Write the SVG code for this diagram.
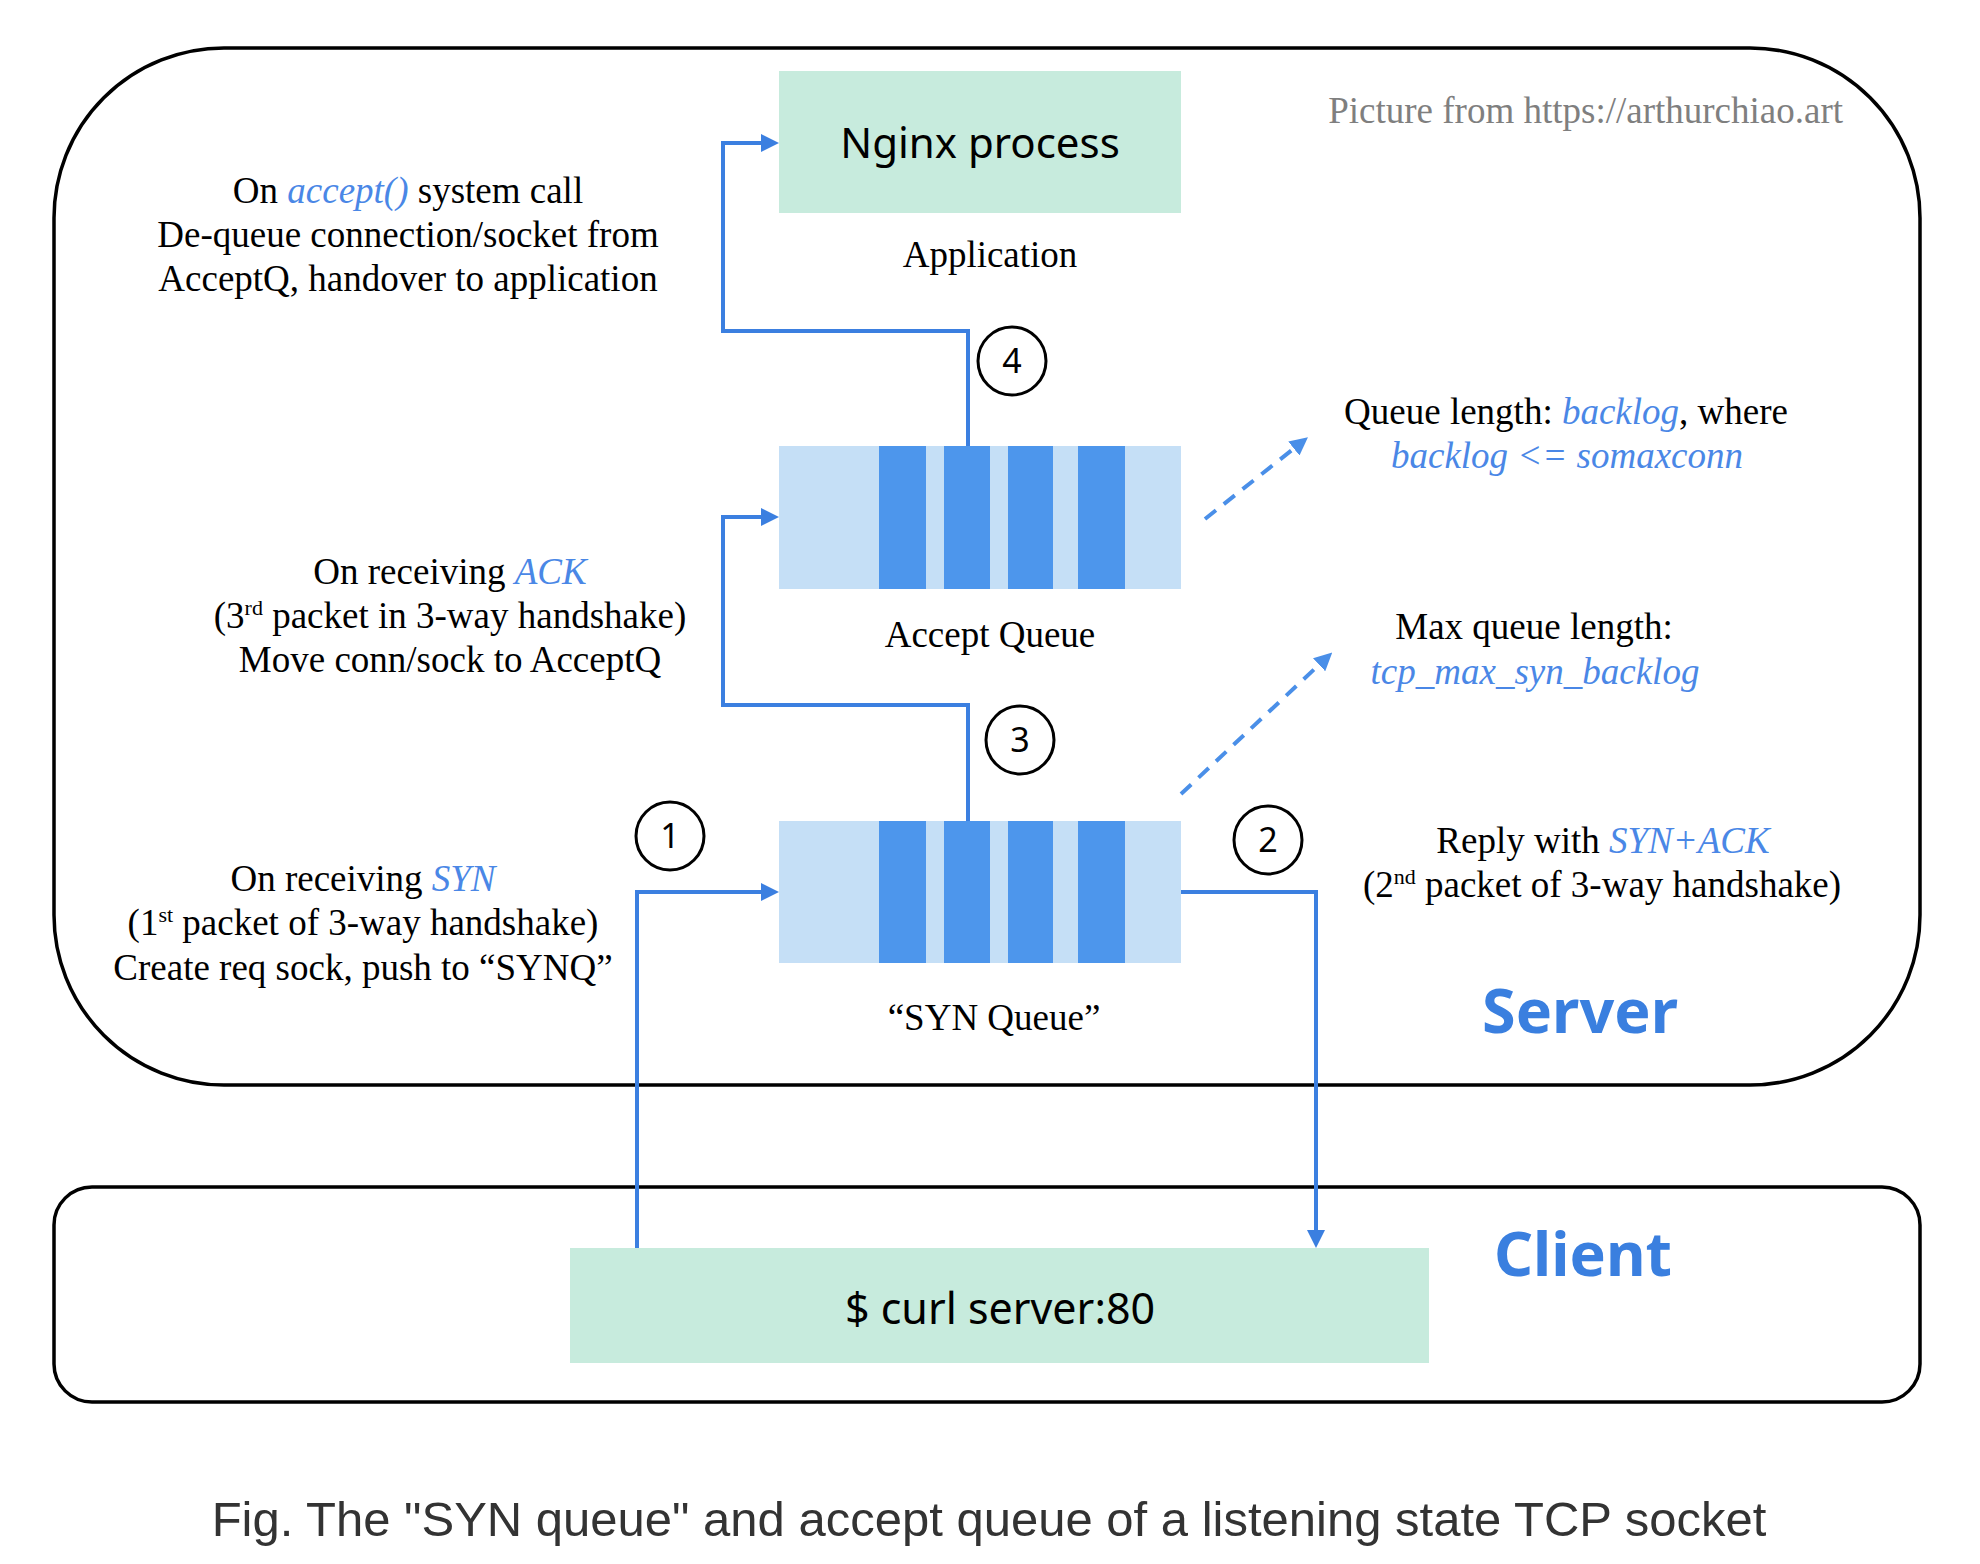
<svg xmlns="http://www.w3.org/2000/svg" width="1980" height="1564" viewBox="0 0 1980 1564">
<style>
.bg{fill:#ffffff}
.frame{fill:none;stroke:#000;stroke-width:3.5}
.mint{fill:#C7EBDD}
.qlight{fill:#C5DFF6}
.qdark{fill:#4D96EC}
.conn{fill:none;stroke:#3B7FE0;stroke-width:4}
.dash{fill:none;stroke:#4A8FE8;stroke-width:4;stroke-dasharray:14 10}
.circ{fill:#fff;stroke:#000;stroke-width:3}
.serif{font-family:"Liberation Serif","Times New Roman",serif;font-size:37px;fill:#000}
.it{font-style:italic;fill:#4A87E6}
.sans{font-family:"Noto Sans","Open Sans",sans-serif;fill:#000}
.num{font-family:"Noto Sans","Open Sans",sans-serif;font-size:34px;fill:#000;text-anchor:middle}
.big{font-family:"Noto Sans","Open Sans",sans-serif;font-weight:bold;font-size:61px;fill:#3A7FDF;text-anchor:middle}
.mid{text-anchor:middle}
.sup{font-size:22px}
</style>
<defs>
<marker id="ah" markerUnits="userSpaceOnUse" markerWidth="18" markerHeight="18" refX="4" refY="9" orient="auto">
<path d="M0,0 L18,9 L0,18 z" fill="#3B7FE0"/>
</marker>
<marker id="ahd" markerUnits="userSpaceOnUse" markerWidth="18" markerHeight="18" refX="4" refY="9" orient="auto">
<path d="M0,0 L18,9 L0,18 z" fill="#4A8FE8"/>
</marker>
</defs>
<rect class="bg" x="0" y="0" width="1980" height="1564"/>

<g id="server">
<rect class="frame" x="54" y="48" width="1866" height="1037" rx="170" ry="170"/>
<text class="big" x="1580" y="1033">Server</text>
<text class="serif" x="1843" y="123" text-anchor="end" style="fill:#7F7F7F">Picture from https://arthurchiao.art</text>
</g>

<g id="client">
<rect class="frame" x="54" y="1187" width="1866" height="215" rx="38" ry="38"/>
<text class="big" x="1583" y="1276">Client</text>
</g>

<g id="nginx">
<rect class="mint" x="779" y="71" width="402" height="142"/>
<text class="sans mid" x="980" y="158" font-size="42">Nginx process</text>
<text class="serif mid" x="990" y="267">Application</text>
</g>

<g id="accept-queue">
<rect class="qlight" x="779" y="446" width="402" height="143"/>
<rect class="qdark" x="879" y="446" width="47" height="143"/>
<rect class="qdark" x="944" y="446" width="46" height="143"/>
<rect class="qdark" x="1008" y="446" width="45" height="143"/>
<rect class="qdark" x="1078" y="446" width="47" height="143"/>
<text class="serif mid" x="990" y="647">Accept Queue</text>
</g>

<g id="syn-queue">
<rect class="qlight" x="779" y="821" width="402" height="142"/>
<rect class="qdark" x="879" y="821" width="47" height="142"/>
<rect class="qdark" x="944" y="821" width="46" height="142"/>
<rect class="qdark" x="1008" y="821" width="45" height="142"/>
<rect class="qdark" x="1078" y="821" width="47" height="142"/>
<text class="serif mid" x="994" y="1030">“SYN Queue”</text>
</g>

<g id="curl">
<rect class="mint" x="570" y="1248" width="859" height="115"/>
<text class="sans mid" x="1000" y="1324" font-size="43">$ curl server:80</text>
</g>

<g id="connectors">
<path class="conn" d="M968,446 V331 H723 V143 H765" marker-end="url(#ah)"/>
<path class="conn" d="M968,821 V705 H723 V517 H765" marker-end="url(#ah)"/>
<path class="conn" d="M637,1248 V892 H765" marker-end="url(#ah)"/>
<path class="conn" d="M1181,892 H1316 V1234" marker-end="url(#ah)"/>
<path class="dash" d="M1205,519 L1297,446" marker-end="url(#ahd)"/>
<path class="dash" d="M1181,794 L1322,662" marker-end="url(#ahd)"/>
</g>

<g id="step-1">
<circle class="circ" cx="670" cy="836" r="34"/>
<text class="num" x="670" y="848">1</text>
</g>
<g id="step-2">
<circle class="circ" cx="1268" cy="840" r="34"/>
<text class="num" x="1268" y="852">2</text>
</g>
<g id="step-3">
<circle class="circ" cx="1020" cy="740" r="34"/>
<text class="num" x="1020" y="752">3</text>
</g>
<g id="step-4">
<circle class="circ" cx="1012" cy="361" r="34"/>
<text class="num" x="1012" y="373">4</text>
</g>

<g id="note-accept">
<text class="serif mid" x="408" y="203">On <tspan class="it">accept()</tspan> system call</text>
<text class="serif mid" x="408" y="247">De-queue connection/socket from</text>
<text class="serif mid" x="408" y="291">AcceptQ, handover to application</text>
</g>

<g id="note-ack">
<text class="serif mid" x="450" y="584">On receiving <tspan class="it">ACK</tspan></text>
<text class="serif mid" x="450" y="628">(3<tspan class="sup" dy="-13">rd</tspan><tspan dy="13"> packet in 3-way handshake)</tspan></text>
<text class="serif mid" x="450" y="672">Move conn/sock to AcceptQ</text>
</g>

<g id="note-syn">
<text class="serif mid" x="363" y="891">On receiving <tspan class="it">SYN</tspan></text>
<text class="serif mid" x="363" y="935">(1<tspan class="sup" dy="-13">st</tspan><tspan dy="13"> packet of 3-way handshake)</tspan></text>
<text class="serif mid" x="363" y="980">Create req sock, push to “SYNQ”</text>
</g>

<g id="note-backlog">
<text class="serif mid" x="1566" y="424">Queue length: <tspan class="it">backlog</tspan>, where</text>
<text class="serif mid it" x="1567" y="468">backlog &lt;= somaxconn</text>
</g>

<g id="note-synbacklog">
<text class="serif mid" x="1534" y="639">Max queue length:</text>
<text class="serif mid it" x="1535" y="684">tcp_max_syn_backlog</text>
</g>

<g id="note-synack">
<text class="serif mid" x="1603" y="853">Reply with <tspan class="it">SYN+ACK</tspan></text>
<text class="serif mid" x="1602" y="897">(2<tspan class="sup" dy="-13">nd</tspan><tspan dy="13"> packet of 3-way handshake)</tspan></text>
</g>

<g id="caption">
<text x="989" y="1536" text-anchor="middle" font-family="'Liberation Sans',Arial,sans-serif" font-size="49" fill="#333333">Fig. The "SYN queue" and accept queue of a listening state TCP socket</text>
</g>
</svg>
